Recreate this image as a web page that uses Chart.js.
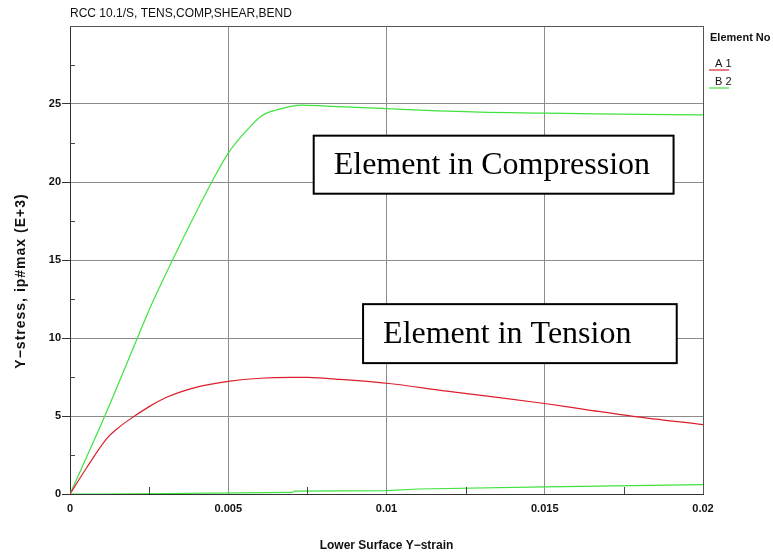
<!DOCTYPE html>
<html>
  <head>
    <meta charset="utf-8">
    <title>RCC 10.1/S stress-strain</title>
    <style>
      body { margin: 0; background: #fff; }
      #wrap { width: 773px; height: 556px; }
    </style>
  </head>
  <body>
    <div id="wrap"><canvas id="myChart" width="773" height="556"></canvas></div>

    <script src="https://cdn.jsdelivr.net/npm/chart.js@4.4.1/dist/chart.umd.min.js"></script>
    <script>
      // element A 1 (tension) - red
      var strainA = [0, 0.0005, 0.00116, 0.0015, 0.00184, 0.0025, 0.00305, 0.0035, 0.0041, 0.005, 0.006, 0.007, 0.0075, 0.0085, 0.01, 0.0119, 0.0135, 0.015, 0.0165, 0.0178, 0.02];
      var stressA = [0, 1.6, 3.55, 4.2, 4.72, 5.6, 6.2, 6.55, 6.9, 7.22, 7.42, 7.48, 7.47, 7.35, 7.1, 6.6, 6.2, 5.8, 5.35, 4.98, 4.45];

      // element B 2 (compression) - green
      var strainB = [0, 0.0011, 0.00213, 0.0025, 0.00324, 0.00448, 0.005, 0.00558, 0.00606, 0.0065, 0.0073, 0.0081, 0.01, 0.01295, 0.015, 0.0166, 0.02];
      var stressB = [0, 5, 10, 11.8, 15, 20, 21.85, 23.3, 24.25, 24.6, 24.93, 24.87, 24.7, 24.48, 24.42, 24.37, 24.3];

      // low green trace along the axis
      var strainC = [0, 0.001, 0.003, 0.007, 0.0071, 0.01, 0.011, 0.015, 0.02];
      var stressC = [0, 0, 0.03, 0.1, 0.18, 0.22, 0.32, 0.46, 0.6];

      var xTickLabels = ['0', '0.005', '0.01', '0.015', '0.02'];
      var yTickLabels = ['0', '5', '10', '15', '20', '25', ''];
      var xMinor = [0.0025, 0.0075, 0.0125, 0.0175];
      var yMinor = [2.5, 7.5, 12.5, 17.5, 22.5, 27.5];
      var legendLabels = ['A 1', 'B 2'];

      var RED = '#dc1f2c';
      var GREEN = '#3fe33f';
      var SANS = '"Liberation Sans", Arial, sans-serif';
      var SERIF = '"Liberation Serif", "Times New Roman", serif';

      // callout boxes, in data units: [x0, x1, yTop, yBottom]
      var notes = [
        {text: 'Element in Compression', box: [0.0077, 0.01907, 22.97, 19.25]},
        {text: 'Element in Tension', box: [0.00926, 0.01917, 12.17, 8.39]}
      ];

      function pts(xs, ys) {
        var out = [];
        for (var i = 0; i < xs.length; i++) out.push({x: xs[i], y: ys[i]});
        return out;
      }

      var overlay = {
        id: 'overlay',
        afterDatasetsDraw: function (chart) {
          var ctx = chart.ctx, a = chart.chartArea, x = chart.scales.x, y = chart.scales.y;
          ctx.save();
          // top / right frame
          ctx.strokeStyle = '#555';
          ctx.lineWidth = 1;
          ctx.beginPath();
          ctx.moveTo(a.left, Math.round(a.top) + 0.5);
          ctx.lineTo(Math.round(a.right) + 0.5, Math.round(a.top) + 0.5);
          ctx.lineTo(Math.round(a.right) + 0.5, a.bottom);
          ctx.stroke();
          // minor ticks
          ctx.strokeStyle = '#444';
          ctx.beginPath();
          yMinor.forEach(function (v) {
            var py = Math.round(y.getPixelForValue(v)) + 0.5;
            ctx.moveTo(a.left, py); ctx.lineTo(a.left + 5, py);
          });
          xMinor.forEach(function (v) {
            var px = Math.round(x.getPixelForValue(v)) + 0.5;
            ctx.moveTo(px, a.bottom); ctx.lineTo(px, a.bottom - 7);
          });
          ctx.stroke();
          // callout boxes
          notes.forEach(function (n) {
            var l = x.getPixelForValue(n.box[0]), r = x.getPixelForValue(n.box[1]);
            var t = y.getPixelForValue(n.box[2]), b = y.getPixelForValue(n.box[3]);
            ctx.fillStyle = '#fff';
            ctx.fillRect(l, t, r - l, b - t);
            ctx.strokeStyle = '#000';
            ctx.lineWidth = 2;
            ctx.strokeRect(l, t, r - l, b - t);
            ctx.fillStyle = '#000';
            ctx.font = '32px ' + SERIF;
            ctx.textBaseline = 'alphabetic';
            ctx.fillText(n.text, l + 20, (t + b) / 2 + 9);
          });
          ctx.restore();
        },
        afterDraw: function (chart) {
          var ctx = chart.ctx, a = chart.chartArea;
          ctx.save();
          ctx.fillStyle = '#111';
          ctx.textBaseline = 'alphabetic';
          ctx.font = '12px ' + SANS;
          ctx.fillText('RCC 10.1/S, TENS,COMP,SHEAR,BEND', a.left, 17);
          // legend
          ctx.font = 'bold 11px ' + SANS;
          ctx.fillText('Element No', a.right + 7, 41);
          legendLabels.forEach(function (lab, i) {
            var ds = chart.data.datasets[i];
            var by = 67 + i * 18;
            ctx.fillStyle = '#111';
            ctx.font = '11px ' + SANS;
            ctx.fillText(lab, a.right + 12, by);
            ctx.strokeStyle = ds.borderColor;
            ctx.lineWidth = 1.2;
            ctx.beginPath();
            ctx.moveTo(a.right + 6, by + 3);
            ctx.lineTo(a.right + 26, by + 3);
            ctx.stroke();
          });
          // y axis title
          ctx.fillStyle = '#111';
          ctx.font = 'bold 14px ' + SANS;
          ctx.letterSpacing = '1px';
          ctx.translate(21, 281);
          ctx.rotate(-Math.PI / 2);
          ctx.textAlign = 'center';
          ctx.textBaseline = 'middle';
          ctx.fillText('Y\u2212stress, ip#max (E+3)', 0, 0);
          ctx.restore();
        }
      };

      var ctx = document.getElementById('myChart');
      var myChart = new Chart(ctx, {
        type: 'line',
        data: {
          datasets: [
            {label: legendLabels[0], data: pts(strainA, stressA), borderColor: RED, cubicInterpolationMode: 'monotone'},
            {label: legendLabels[1], data: pts(strainB, stressB), borderColor: GREEN, cubicInterpolationMode: 'monotone'},
            {label: 'B 2 low', data: pts(strainC, stressC), borderColor: GREEN, tension: 0}
          ]
        },
        options: {
          responsive: false,
          animation: false,
          layout: {padding: {top: 26, right: 70, left: 0, bottom: 0}},
          elements: {point: {radius: 0}, line: {borderWidth: 1.2, fill: false}},
          plugins: {legend: {display: false}, tooltip: {enabled: false}},
          scales: {
            x: {
              type: 'linear', min: 0, max: 0.02,
              afterFit: function (s) { s.height = 62; },
              ticks: {
                stepSize: 0.005, autoSkip: false, maxRotation: 0, padding: 8, color: '#111',
                font: {family: SANS, size: 11, weight: 'bold'},
                callback: function (v, i) { return xTickLabels[i]; }
              },
              grid: {color: '#8c8c8c', drawTicks: false},
              border: {color: '#333'},
              title: {
                display: true, text: 'Lower Surface Y\u2212strain', color: '#111',
                font: {family: SANS, size: 12, weight: 'bold'},
                padding: {top: 0, bottom: 3}
              }
            },
            y: {
              min: 0, max: 30,
              afterFit: function (s) { s.width = 70; },
              ticks: {
                stepSize: 5, padding: 1, color: '#111',
                font: {family: SANS, size: 11, weight: 'bold'},
                callback: function (v, i) { return yTickLabels[i]; }
              },
              grid: {
                color: function (c) { return c.tick && c.tick.value === 30 ? 'rgba(0,0,0,0)' : '#8c8c8c'; },
                tickColor: function (c) { return c.tick && c.tick.value === 30 ? 'rgba(0,0,0,0)' : '#333'; },
                tickLength: 8
              },
              border: {color: '#333'}
            }
          }
        },
        plugins: [overlay]
      });
    </script>
  </body>
</html>
